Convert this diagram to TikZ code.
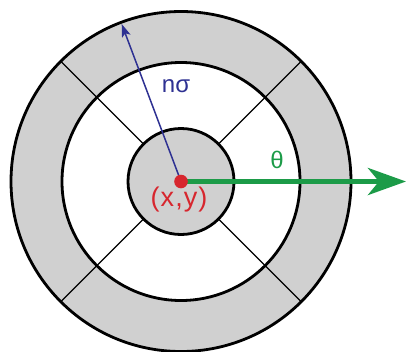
\documentclass[tikz,border=0pt]{standalone}
\usepackage{fontspec}
\setmainfont{Liberation Sans}
\usetikzlibrary{arrows.meta,calc}
\definecolor{ringgray}{HTML}{D0D0D0}
\definecolor{arrblue}{HTML}{2E3192}
\definecolor{arrgreen}{HTML}{1C9B48}
\definecolor{dotred}{HTML}{D7262E}
\begin{document}
\begin{tikzpicture}[x=1pt,y=-1pt,
  ring/.style={draw=black,line width=2.8pt},
  spoke/.style={draw=black,line width=1.4pt},
  lbl/.style={inner sep=0pt,font=\fontsize{24}{24}\selectfont}]
\useasboundingbox (0,0) rectangle (406,351);
\coordinate (c) at (181,181.5);
% gray outer annulus and inner disk
\fill[ringgray,even odd rule] (c) circle[radius=170] (c) circle[radius=119];
\fill[ringgray] (c) circle[radius=53];
% spokes
\foreach \a in {45,135,225,315}{
  \draw[spoke] ($(c)+(\a:53)$) -- ($(c)+(\a:170)$);
}
% circles
\draw[ring] (c) circle[radius=170];
\draw[ring] (c) circle[radius=119];
\draw[ring] (c) circle[radius=53];
% arrows
\coordinate (btip) at (121.7,24);
\coordinate (gtip) at (406,181.5);
\draw[arrblue,line width=1.5pt,-{Stealth[length=13pt,width=9pt,inset=3pt]}] (c) -- (btip);
\draw[arrgreen,line width=5.5pt,-{Stealth[length=38pt,width=27pt,inset=11pt]}] (c) -- (gtip);
\fill[dotred] (c) circle[radius=6.8];
% labels
\node[lbl,text=arrblue] (ns) at (176,86) {nσ};
\node[lbl,text=arrgreen] (th) at (277,160) {θ};
\node[lbl,text=dotred,font=\fontsize{27}{27}\selectfont] (xy) at (179,200) {(\kern1pt x\kern1.5pt,\kern1pt y\kern1pt)};
\end{tikzpicture}
\end{document}
